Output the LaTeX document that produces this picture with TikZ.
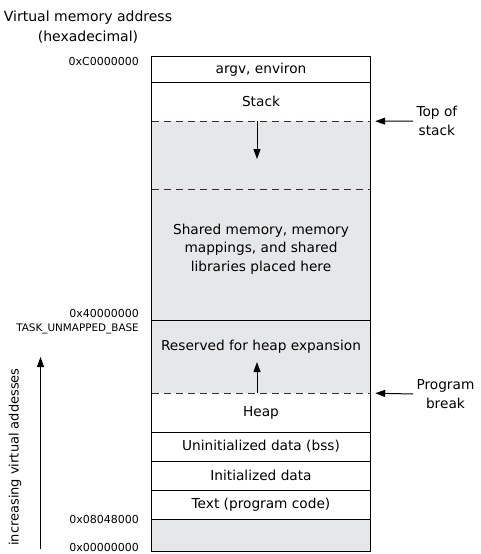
\documentclass[tikz,border=0pt]{standalone}
\usepackage{fontspec}
\setmainfont{DejaVu Sans}
\usetikzlibrary{arrows.meta}

\definecolor{mapgray}{HTML}{E6E7E8}
\definecolor{brkline}{HTML}{3C2E2E}

\begin{document}
\begin{tikzpicture}[
    x=1pt, y=-1pt,
    seg/.style={rectangle, minimum width=218pt, inner sep=0pt, font=\fontsize{13.7}{18.5}\selectfont},
    used/.style={seg, fill=white},
    free/.style={seg, fill=mapgray},
    addr/.style={anchor=east, inner sep=0pt, font=\fontsize{11}{13}\selectfont},
    note/.style={align=center, font=\fontsize{13.7}{18.5}\selectfont},
    brk/.style={draw=brkline, line width=1.2pt, dash pattern=on 7pt off 5pt},
    ptr/.style={-{Triangle[length=10pt, width=7pt]}, line width=1pt}
]

  % Define variables for the segment column
  \def\colX{261}     % horizontal centre of the column
  \def\arrX{257}     % x of the growth arrows

  \useasboundingbox (0,0) rectangle (481,554);

  % Segments, high addresses at the top
  \node[used, minimum height=25pt] (argv) at (\colX,69.5) {argv, environ};
  \node[used, minimum height=39pt] (stack) at (\colX,101.5) {Stack};
  \node[free, minimum height=68pt] (grow) at (\colX,155) {};
  \node[free, minimum height=131pt] (mmap) at (\colX,254.5) {};
  \node[free, minimum height=73pt] (resv) at (\colX,356.5) {};
  \node[used, minimum height=39pt] (heap) at (\colX,412.5) {Heap};
  \node[used, minimum height=29pt] (bss) at (\colX,446.5) {Uninitialized data (bss)};
  \node[used, minimum height=29pt] (data) at (\colX,475.5) {Initialized data};
  \node[used, minimum height=29pt] (text) at (\colX,504.5) {Text (program code)};
  \node[free, minimum height=32pt] (low) at (\colX,535) {};

  % Labels of the gray areas
  \node[note] (mmaplbl) at (\colX,249) {Shared memory, memory\\mappings, and shared\\libraries placed here};
  \node[note] (resvlbl) at (\colX,347) {Reserved for heap expansion};

  % Frame and dividers
  \draw[line width=1.2pt] (argv.north west) rectangle (low.south east);
  \foreach \s in {argv, mmap, heap, bss, data, text}
    \draw[line width=1.1pt] (\s.south west) -- (\s.south east);
  \foreach \s in {stack, grow, resv}
    \draw[brk] (\s.south west) -- (\s.south east);

  % Growth of stack and heap
  \coordinate (stkend) at (\arrX,159);
  \coordinate (heapend) at (\arrX,362);
  \draw[ptr] (stack.south -| stkend) -- (stkend);
  \draw[ptr] (heap.north -| heapend) -- (heapend);

  % Top of stack and program break
  \node[note, anchor=west] (topstk) at (413,121) {Top of\\stack};
  \node[note, anchor=west] (pbrk) at (413,394) {Program\\break};
  \coordinate (stkmark) at ([xshift=5pt]stack.south east);
  \coordinate (brkmark) at ([xshift=5pt]resv.south east);
  \draw[ptr] (topstk.west) -- (stkmark);
  \draw[ptr] (pbrk.west) -- (brkmark);

  % Addresses on the left
  \node[note, font=\fontsize{14}{19.5}\selectfont] (hdr) at (88,27) {Virtual memory address\\(hexadecimal)};
  \node[addr] (atop) at (139,61) {0xC0000000};
  \node[addr] (amap) at (139,313) {0x40000000};
  \node[addr, font=\fontsize{10.4}{13}\selectfont] (abase) at (139,329) {TASK\_UNMAPPED\_BASE};
  \node[addr] (atext) at (139,519) {0x08048000};
  \node[addr] (azero) at (139,547) {0x00000000};

  % Direction of increasing addresses
  \node[rotate=90, font=\fontsize{13}{15}\selectfont] (inc) at (15,457) {increasing virtual addesses};
  \coordinate (incbot) at (40.5,549);
  \coordinate (inctop) at (40.5,357);
  \draw[ptr, line width=0.8pt] (incbot) -- (inctop);

\end{tikzpicture}
\end{document}
